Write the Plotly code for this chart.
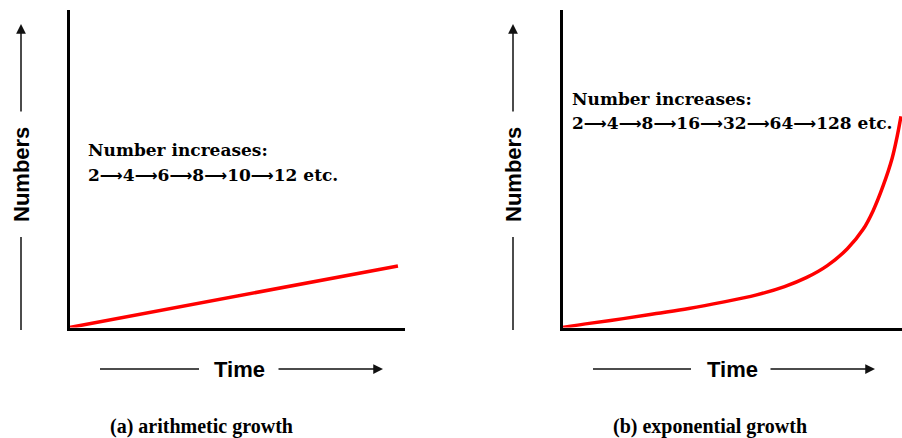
import plotly.graph_objects as go

W, H = 902, 438

# ---- data (time on x, population numbers on y) ----
arith_time = [0, 9.79]
arith_numbers = [0, 1.94]

expo_time = [0, 0.79, 1.79, 2.76, 3.72, 4.72, 5.69, 6.54, 7.18, 7.80,
             8.39, 8.86, 9.15, 9.44, 9.71, 9.85, 9.97]
expo_numbers = [0, 0.13, 0.28, 0.44, 0.60, 0.80, 1.02, 1.29, 1.57, 1.95,
                2.48, 3.10, 3.68, 4.45, 5.33, 5.98, 6.65]

arith_seq = ["2", "4", "6", "8", "10", "12"]
expo_seq = ["2", "4", "8", "16", "32", "64", "128"]

heading = "Number increases:"
y_label = "Numbers"
x_label = "Time"
captions = ["(a) arithmetic growth", "(b) exponential growth"]


def px(x):
    return x / W


def py(y):
    return 1 - y / H


fig = go.Figure()
fig.add_trace(go.Scatter(x=arith_time, y=arith_numbers, mode="lines",
                         line=dict(color="#ff0000", width=3.5),
                         xaxis="x", yaxis="y", hoverinfo="skip"))
fig.add_trace(go.Scatter(x=expo_time, y=expo_numbers, mode="lines",
                         line=dict(color="#ff0000", width=3.5, shape="spline",
                                   smoothing=1),
                         xaxis="x2", yaxis="y2", hoverinfo="skip"))

axis_common = dict(showgrid=False, zeroline=False, showticklabels=False,
                   ticks="", showline=True, linecolor="#000000", linewidth=3,
                   fixedrange=True)
ydom = [py(327.5), py(10)]
fig.update_layout(
    width=W, height=H,
    margin=dict(l=0, r=0, t=0, b=0),
    paper_bgcolor="white", plot_bgcolor="white",
    showlegend=False,
    xaxis=dict(domain=[px(69.5), px(405)], range=[0, 10], anchor="y", **axis_common),
    yaxis=dict(domain=ydom, range=[0, 10], anchor="x", **axis_common),
    xaxis2=dict(domain=[px(562.5), px(902)], range=[0, 10], anchor="y2", **axis_common),
    yaxis2=dict(domain=ydom, range=[0, 10], anchor="x2", **axis_common),
)

serif = dict(family="DejaVu Serif", size=17, color="#000000")
sans = dict(family="Liberation Sans", size=22, color="#000000")
cap_font = dict(family="Liberation Serif", size=20, color="#000000")

arrow_sep = '<span style="font-family:DejaVu Sans;font-size:16px">⟶</span>'

ann = []
shapes = []
panels = [
    dict(off=0, ylab_x=21, tl=(100, 199), tr=(277, 383), tx=240,
         head=(86, 150), seq=arith_seq, seq_y=175, cap_x=201, cap=captions[0]),
    dict(off=450, ylab_x=513, tl=(593, 691), tr=(769, 875), tx=732,
         head=(570, 99), seq=expo_seq, seq_y=123, cap_x=710, cap=captions[1]),
]
for p in panels:
    # y label with arrow
    ann.append(dict(text="<b>%s</b>" % y_label, x=px(p["ylab_x"]), y=py(175),
                    xref="paper", yref="paper", showarrow=False, textangle=-90,
                    font=sans, xanchor="center", yanchor="middle"))
    shapes.append(dict(type="line", xref="paper", yref="paper",
                       x0=px(p["ylab_x"]), x1=px(p["ylab_x"]), y0=py(330), y1=py(237),
                       line=dict(color="#111111", width=1.5)))
    ann.append(dict(text="", x=px(p["ylab_x"]), y=py(24), xref="paper", yref="paper",
                    showarrow=True, ax=0, ay=89, arrowhead=2, arrowsize=1.3,
                    arrowwidth=1.5, arrowcolor="#111111", standoff=0))
    # x label with arrow
    ann.append(dict(text="<b>%s</b>" % x_label, x=px(p["tx"]), y=py(369),
                    xref="paper", yref="paper", showarrow=False,
                    font=sans, xanchor="center", yanchor="middle"))
    shapes.append(dict(type="line", xref="paper", yref="paper",
                       x0=px(p["tl"][0]), x1=px(p["tl"][1]), y0=py(369), y1=py(369),
                       line=dict(color="#111111", width=1.5)))
    ann.append(dict(text="", x=px(p["tr"][1]), y=py(369), xref="paper", yref="paper",
                    showarrow=True, ax=-(p["tr"][1] - p["tr"][0]), ay=0, arrowhead=2,
                    arrowsize=1.3, arrowwidth=1.5, arrowcolor="#111111", standoff=0))
    # heading text
    ann.append(dict(text="<b>%s</b>" % heading, x=px(p["head"][0]), y=py(p["head"][1]),
                    xref="paper", yref="paper", showarrow=False, font=serif,
                    xanchor="left", yanchor="middle"))
    ann.append(dict(text="<b>%s etc.</b>" % arrow_sep.join(p["seq"]),
                    x=px(p["head"][0]), y=py(p["seq_y"]),
                    xref="paper", yref="paper", showarrow=False, font=serif,
                    xanchor="left", yanchor="middle"))
    # caption
    ann.append(dict(text="<b>%s</b>" % p["cap"], x=px(p["cap_x"]), y=py(426),
                    xref="paper", yref="paper", showarrow=False, font=cap_font,
                    xanchor="center", yanchor="middle"))

fig.update_layout(annotations=ann, shapes=shapes)
fig.write_html("out.html", config={"displayModeBar": False},
               post_script="document.body.style.margin='0px';document.body.style.overflow='hidden';")
